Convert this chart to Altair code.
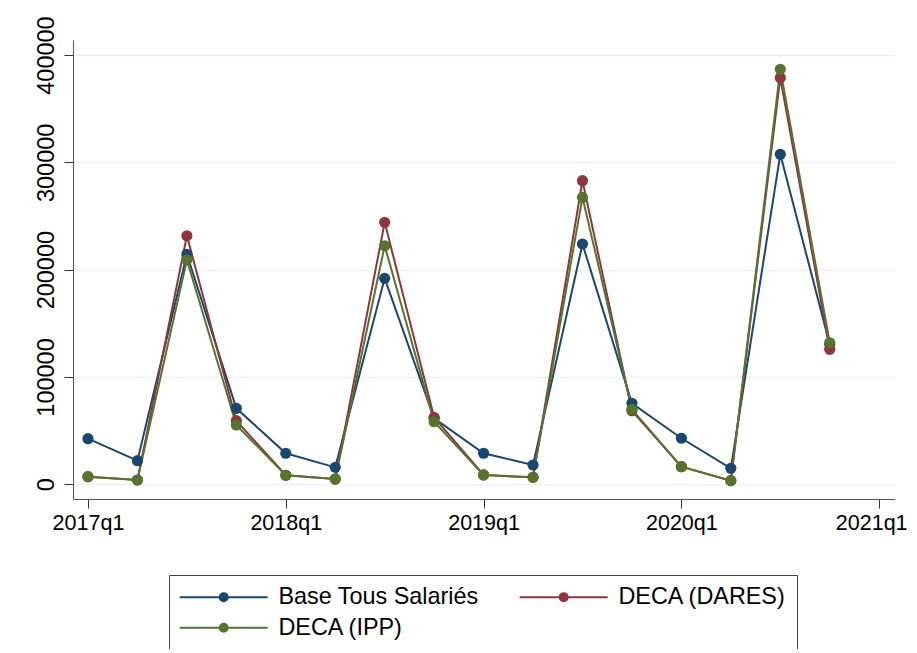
import altair as alt
import pandas as pd

# ---- data ----
quarter_index = list(range(16))  # 0 = 2017q1 ... 15 = 2020q4
base_tous_salaries = [42500, 22000, 214300, 70800, 28900, 15800, 191900, 61500,
                      28900, 18000, 223900, 75500, 42900, 14900, 307500, 130500]
deca_dares = [7100, 4000, 231600, 59300, 8400, 4900, 244100, 62400,
              8700, 6500, 282900, 68600, 16400, 3400, 378800, 125800]
deca_ipp = [7100, 4000, 209000, 55300, 8400, 4900, 222300, 58300,
            8700, 6500, 267400, 69900, 16400, 3400, 386700, 131900]

series_names = ["Base Tous Salariés", "DECA (DARES)", "DECA (IPP)"]
series_colors = ["#1a476f", "#90353b", "#55752f"]

x_tick_values = [0, 4, 8, 12, 16]
x_tick_labels = ["2017q1", "2018q1", "2019q1", "2020q1", "2021q1"]
y_tick_values = [0, 100000, 200000, 300000, 400000]

rows = []
for k, (name, vals) in enumerate(zip(series_names, [base_tous_salaries, deca_dares, deca_ipp])):
    for t, v in zip(quarter_index, vals):
        rows.append({"serie": name, "t": t, "valeur": v, "ordre": k})
df = pd.DataFrame(rows)

label_expr = "[" + ",".join(f"'{l}'" for l in x_tick_labels) + "][round(datum.value/4)]"

FONT = "Liberation Sans"

x_enc = alt.X(
    "t:Q",
    scale=alt.Scale(domain=[-0.303, 16.32], nice=False, zero=False),
    axis=alt.Axis(values=x_tick_values, labelExpr=label_expr, title=None, grid=False,
                  labelFontSize=21.5, labelPadding=4, labelFlush=False, labelOverlap=False,
                  labelOffset={"condition": {"test": "datum.value == 16", "value": -8}, "value": 0}),
)
y_enc = alt.Y(
    "valeur:Q",
    scale=alt.Scale(domain=[-13700, 414000], nice=False, zero=False),
    axis=alt.Axis(values=y_tick_values, format="d", labelAngle=270, title=None,
                  grid=True, gridColor="#eaf2f3", gridWidth=1.5,
                  labelFontSize=23.5, labelPadding=6, labelFlush=False, labelOverlap=False),
)

# legend symbol: a line with a dot in the middle (concentric rings fill the dot)
def ring(r):
    return f"M{-r},0A{r},{r} 0 1,0 {r},0A{r},{r} 0 1,0 {-r},0Z"

symbol_path = "M-8.8,0L8.8,0" + "".join(ring(r) for r in [0.8, 0.6, 0.4, 0.2])

color_enc = alt.Color(
    "serie:N",
    scale=alt.Scale(domain=series_names, range=series_colors),
    legend=alt.Legend(
        title=None, orient="none", legendX=96, legendY=535, columns=2,
        direction="horizontal",
        columnPadding=36, rowPadding=6, padding=10, strokeColor="#404040",
        labelFont=FONT, labelFontSize=23.4, labelColor="#000000",
        symbolType=symbol_path, symbolSize=100, symbolStrokeWidth=2,
        symbolOffset=33, labelOffset=43,
        labelLimit=400,
    ),
)

lines = alt.Chart(df).mark_line(strokeWidth=2).encode(
    x=x_enc, y=y_enc, color=color_enc, order=alt.Order("t:Q")
)
points = alt.Chart(df).mark_circle(size=125, opacity=1).encode(
    x=x_enc, y=y_enc, color=color_enc, order=alt.Order("ordre:Q")
)

chart = (
    alt.layer(lines, points)
    .properties(
        width=822, height=459,
        padding={"left": 65, "top": 32, "right": 14, "bottom": 150},
        autosize=alt.AutoSizeParams(type="none"),
        background="white",
    )
    .configure_view(stroke=None)
    .configure_axis(
        domainColor="#555555", domainWidth=1, tickColor="#333333", tickSize=9,
        tickWidth=1, labelFont=FONT, labelColor="#000000",
    )
)

chart.save("out.html", embed_options={"renderer": "svg", "actions": False})
